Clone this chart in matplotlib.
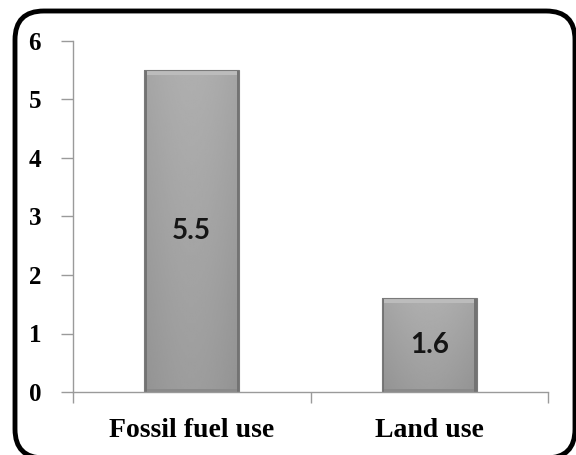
import numpy as np
import matplotlib
matplotlib.use("Agg")
import matplotlib.pyplot as plt
from matplotlib.patches import FancyBboxPatch, Rectangle
from matplotlib.font_manager import FontProperties, fontManager

categories = ["Fossil fuel use", "Land use"]
values = [5.5, 1.6]
value_labels = ["5.5", "1.6"]
yticks = [0, 1, 2, 3, 4, 5, 6]

W, H = 576, 455
fig = plt.figure(figsize=(W / 100, H / 100), dpi=100)

# pick an installed Times-like serif face
serif_files = [f for f in fontManager.ttflist
               if f.name == "Liberation Serif" and f.weight in (700, "bold") and f.style == "normal"]
if serif_files:
    tick_font = FontProperties(fname=serif_files[0].fname, size=18)
    cat_font = FontProperties(fname=serif_files[0].fname, size=20)
else:
    tick_font = FontProperties(family=["Liberation Serif", "DejaVu Serif"], weight="bold", size=18)
    cat_font = FontProperties(family=["Liberation Serif", "DejaVu Serif"], weight="bold", size=20)
value_font = FontProperties(family="Lato", weight="bold", size=20)

# rounded frame around the whole chart (runs slightly past the lower/right edges)
frame = FancyBboxPatch((15 / W, -3 / H), 560 / W, 447 / H,
                       boxstyle="round,pad=0,rounding_size=0.05",
                       transform=fig.transFigure, fill=False,
                       edgecolor="black", linewidth=3.5,
                       mutation_aspect=W / H)
fig.patches.append(frame)

ax = fig.add_axes([73 / W, 63 / H, 475 / W, 351 / H])
x = np.arange(len(categories))
bar_w = 0.40

ax.set_xlim(-0.5, len(categories) - 0.5)
ax.set_ylim(0, 6)

# bevelled grey bars
grad = np.linspace(0, 1, 200)
shade = 0.62 + 0.04 * np.sin(np.pi * grad)
for xi, v in zip(x, values):
    bars = ax.bar(xi, v, width=bar_w, color="#a4a4a4", edgecolor="none", zorder=2)
    rect = bars[0]
    vshade = np.linspace(0.60, 0.67, 100)[:, None]
    img = vshade + (shade[None, :] - shade.mean())
    im = ax.imshow(img, cmap="gray", vmin=0, vmax=1, aspect="auto", origin="lower",
                   extent=(xi - bar_w / 2, xi + bar_w / 2, 0, v), zorder=2.1)
    im.set_clip_path(rect)
    ex = 0.010
    # side edges darker
    ax.add_patch(Rectangle((xi - bar_w / 2, 0), ex, v, color="#737373", zorder=2.2, lw=0))
    ax.add_patch(Rectangle((xi + bar_w / 2 - ex, 0), ex, v, color="#737373", zorder=2.2, lw=0))
    # top bevel lighter, bottom darker
    ax.add_patch(Rectangle((xi - bar_w / 2 + ex, v - 0.08), bar_w - 2 * ex, 0.08,
                           color="#bcbcbc", zorder=2.3, lw=0))
    ax.add_patch(Rectangle((xi - bar_w / 2 + ex, 0), bar_w - 2 * ex, 0.05,
                           color="#8a8a8a", zorder=2.3, lw=0))
    ax.add_patch(Rectangle((xi - bar_w / 2, 0), bar_w, v, fill=False,
                           edgecolor="#7a7a7a", lw=0.8, zorder=2.4))

for xi, v, lab in zip(x, values, value_labels):
    ax.text(xi, v / 2, lab, ha="center", va="center",
            fontproperties=value_font, color="#151515", zorder=3)

for s in ["top", "right"]:
    ax.spines[s].set_visible(False)
for s in ["left", "bottom"]:
    ax.spines[s].set_color("#9a9a9a")
    ax.spines[s].set_linewidth(1.0)

ax.set_yticks(yticks)
ax.set_yticklabels([str(t) for t in yticks], fontproperties=tick_font)
ax.tick_params(axis="y", length=9, width=1, color="#9a9a9a", pad=14)

# category ticks sit between the bars
ax.set_xticks([-0.5, 0.5, 1.5])
ax.set_xticklabels([])
ax.set_xticks(x, minor=True)
ax.set_xticklabels(categories, minor=True, fontproperties=cat_font)
ax.tick_params(axis="x", which="major", length=8, width=1, color="#9a9a9a")
ax.tick_params(axis="x", which="minor", length=0, pad=19)

fig.savefig("out.png", dpi=100)
